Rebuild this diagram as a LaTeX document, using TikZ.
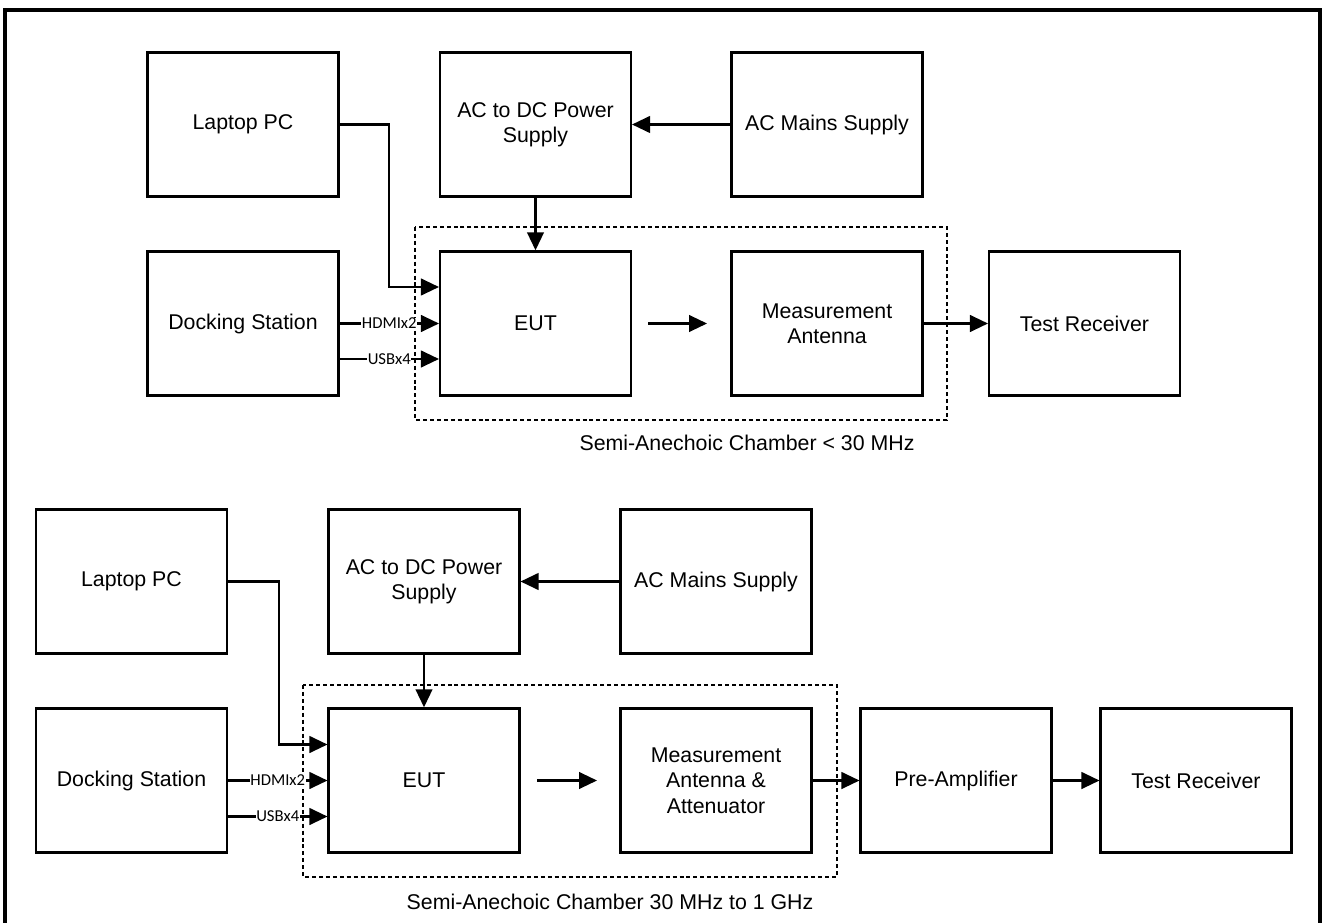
\documentclass[tikz,border=0pt]{standalone}
\usepackage{fontspec}
\setmainfont{Liberation Sans}
\newfontfamily\smallfam{Carlito}
\usetikzlibrary{arrows.meta}
\begin{document}
\begin{tikzpicture}[x=0.75pt,y=-0.75pt,
  blk/.style={draw, line width=1.8pt, minimum width=143pt, minimum height=108pt, inner sep=0pt, align=center, font=\fontsize{16}{19}\selectfont},
  conn/.style={line width=1.6pt, -{Triangle[length=13.5pt,width=12.5pt]}},
  cham/.style={line width=1.6pt, dash pattern=on 3pt off 2.2pt},
  lbl/.style={font=\smallfam\fontsize{12.5}{14}\selectfont, fill=white, inner sep=0.4pt},
  caption/.style={font=\fontsize{16}{19}\selectfont, inner sep=0pt}
]
\useasboundingbox (0,0) rectangle (1323,923);
\draw[line width=3pt] (5,930) -- (5,10) -- (1320,10) -- (1320,930);

% ---------- top diagram ----------
\node[blk] (lap1) at (243,124.5) {Laptop PC};
\node[blk] (acdc1) at (535.5,124.5) {AC to DC Power\\Supply};
\node[blk] (mains1) at (827,124.5) {AC Mains Supply};
\node[blk] (dock1) at (243,323.5) {Docking Station};
\node[blk] (eut1) at (535.5,323.5) {EUT};
\node[blk] (meas1) at (827,323.5) {Measurement\\Antenna};
\node[blk] (rx1) at (1084.5,323.5) {Test Receiver};
\draw[cham] (415,227) rectangle (947,420);
\node[caption] (cap1) at (747,443) {Semi-Anechoic Chamber < 30 MHz};

\coordinate (t1) at (389,287);
\coordinate (t2) at (0,359);
\draw[conn] (mains1.west) -- (acdc1.east);
\draw[conn] (acdc1.south) -- (eut1.north);
\draw[conn] (lap1.east) -| (t1) -- (eut1.west |- t1);
\draw[conn] (dock1.east) -- node[lbl] {HDMIx2} (eut1.west);
\draw[conn] (dock1.east |- t2) -- node[lbl] {USBx4} (eut1.west |- t2);
\coordinate (e1a) at (648,323.5);
\coordinate (e1b) at (707,323.5);
\draw[conn] (e1a) -- (e1b);
\draw[conn] (meas1.east) -- (rx1.west);

% ---------- bottom diagram ----------
\node[blk] (lap2) at (131.5,581.5) {Laptop PC};
\node[blk] (acdc2) at (424,581.5) {AC to DC Power\\Supply};
\node[blk] (mains2) at (716,581.5) {AC Mains Supply};
\node[blk] (dock2) at (131.5,780.5) {Docking Station};
\node[blk] (eut2) at (424,780.5) {EUT};
\node[blk] (meas2) at (716,780.5) {Measurement\\Antenna \&\\Attenuator};
\node[blk] (pre2) at (956,780.5) {Pre-Amplifier};
\node[blk] (rx2) at (1196,780.5) {Test Receiver};
\draw[cham] (303,685) rectangle (837,877);
\node[caption] (cap2) at (610,902) {Semi-Anechoic Chamber 30 MHz to 1 GHz};

\coordinate (b1) at (279,744.5);
\coordinate (b2) at (0,816.5);
\draw[conn] (mains2.west) -- (acdc2.east);
\draw[conn] (acdc2.south) -- (eut2.north);
\draw[conn] (lap2.east) -| (b1) -- (eut2.west |- b1);
\draw[conn] (dock2.east) -- node[lbl] {HDMIx2} (eut2.west);
\draw[conn] (dock2.east |- b2) -- node[lbl] {USBx4} (eut2.west |- b2);
\coordinate (e2a) at (537,780.5);
\coordinate (e2b) at (597,780.5);
\draw[conn] (e2a) -- (e2b);
\draw[conn] (meas2.east) -- (pre2.west);
\draw[conn] (pre2.east) -- (rx2.west);
\end{tikzpicture}
\end{document}
